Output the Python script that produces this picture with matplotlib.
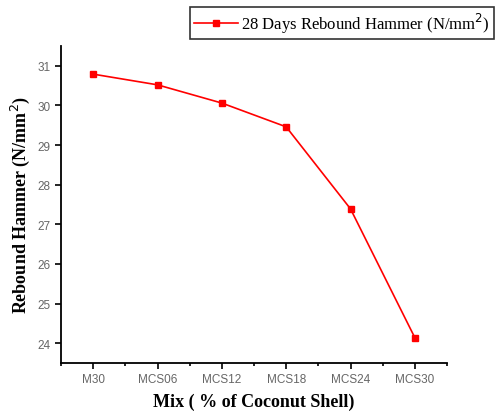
import matplotlib.pyplot as plt
from matplotlib.ticker import FixedLocator

# 28 day rebound hammer readings per mix
mixes = ['M30', 'MCS06', 'MCS12', 'MCS18', 'MCS24', 'MCS30']
rebound = [30.79, 30.52, 30.06, 29.46, 27.39, 24.14]

fig = plt.figure(figsize=(5.01, 4.14), dpi=100)
ax = fig.add_axes([61 / 501, 50 / 414, 386 / 501, 317 / 414])

x = list(range(len(mixes)))
line, = ax.plot(x, rebound, color='red', marker='s', markersize=4, linewidth=1.2)

ax.set_xlim(-0.5, 5.5)
ax.set_ylim(23.5, 31.5)
ax.set_xticks(x)
ax.set_xticklabels(mixes)
ax.xaxis.set_minor_locator(FixedLocator([i + 0.5 for i in range(-1, 6)]))
ax.set_yticks(range(24, 32))

for s in ['top', 'right']:
    ax.spines[s].set_visible(False)
for s in ['left', 'bottom']:
    ax.spines[s].set_linewidth(1.3)

ax.tick_params(axis='both', which='major', direction='out', length=4, width=1.2,
               labelsize=8.5, labelcolor='#666666')
ax.tick_params(axis='x', which='minor', direction='out', length=2.5, width=1.2)
for lbl in ax.get_xticklabels() + ax.get_yticklabels():
    lbl.set_family('Liberation Sans')

ax.set_xlabel('Mix ( % of Coconut Shell)', family='Liberation Serif', fontweight='bold',
              fontsize=13, labelpad=5)
ax.set_ylabel('Rebound Hammer (N/mm$^2$)', family='Liberation Serif', fontweight='bold',
              fontsize=13, labelpad=4)

leg = ax.legend([line], ['28 Days Rebound Hammer (N/mm$^2$)'], loc='upper left',
                bbox_to_anchor=(190 / 501, 1 - 8 / 414), bbox_transform=fig.transFigure,
                prop={'family': 'Liberation Serif', 'size': 12}, frameon=True,
                fancybox=False, handlelength=2.6, handletextpad=0.2,
                borderpad=0.25, borderaxespad=0)
leg.get_frame().set_edgecolor('black')
leg.get_frame().set_linewidth(1.2)

fig.savefig('out.png', dpi=100)
